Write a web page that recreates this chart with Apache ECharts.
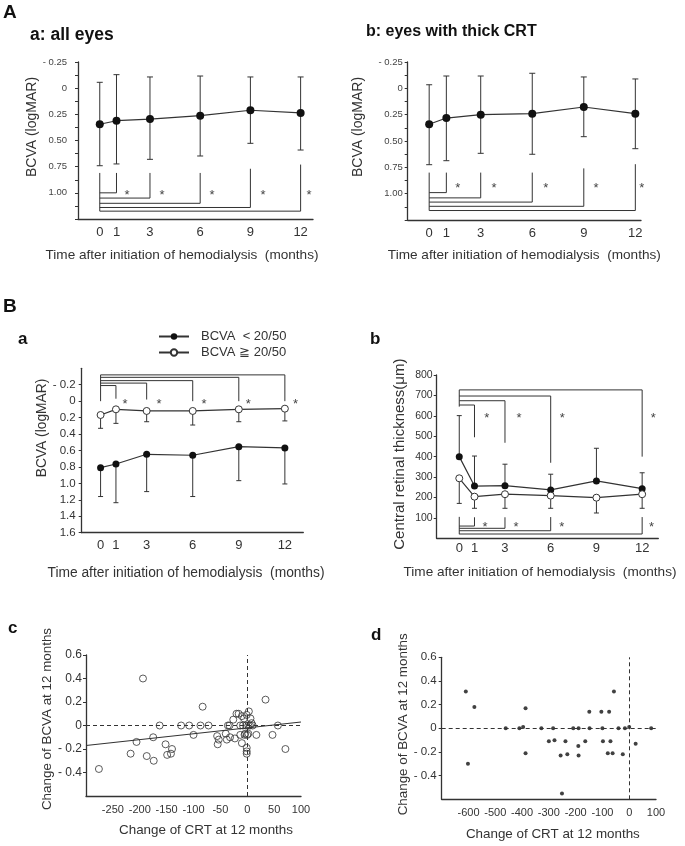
<!DOCTYPE html>
<html><head><meta charset="utf-8">
<script src="https://cdn.jsdelivr.net/npm/echarts@6/dist/echarts.min.js"></script>
<style>html,body{margin:0;padding:0;background:#fff}#c{width:685px;height:846px}</style>
</head><body><div id="c"></div>
<script>
// ================= DATA =================
const months = [0, 1, 3, 6, 9, 12];
const monthTickLabels = [0, 1, 3, 6, 9, 12];

// A-a: all eyes, BCVA (logMAR): mean, bar ends
const allMean  = [0.345, 0.311, 0.295, 0.263, 0.211, 0.237];
const allUpper = [-0.056, -0.129, -0.107, -0.116, -0.107, -0.107];
const allLower = [0.741, 0.724, 0.680, 0.648, 0.527, 0.591];
// A-b: eyes with thick CRT
const thickMean  = [0.341, 0.282, 0.250, 0.241, 0.177, 0.241];
const thickUpper = [-0.034, -0.117, -0.117, -0.143, -0.108, -0.089];
const thickLower = [0.725, 0.687, 0.617, 0.626, 0.459, 0.573];
const aYTicks = [-0.25, 0, 0.25, 0.5, 0.75, 1.0];
const aYTickLabels = ['- 0.25', '0', '0.25', '0.50', '0.75', '1.00'];
// A significance brackets (month, from, to) and stars
const aBrX = [0, 1, 3, 6, 9, 12];
const aaBrFrom = [0.81, 0.81, 0.81, 0.81, 0.77, 0.73];
const aaBrTo   = [1.175, 1.0, 1.05, 1.10, 1.14, 1.175];
const aaStarX = [1.63, 3.72, 6.71, 9.75, 12.5];
const aaStarY = [1.0, 1.0, 1.0, 1.0, 1.0];
const abBrFrom = [0.80, 0.80, 0.80, 0.80, 0.76, 0.72];
const abBrTo   = [1.16, 0.99, 1.04, 1.08, 1.12, 1.16];
const abStarX = [1.66, 3.77, 6.79, 9.71, 12.37];
const abStarY = [0.92, 0.92, 0.92, 0.92, 0.92];

// B-a: BCVA by group
const poorName = 'BCVA  < 20/50';
const goodName = 'BCVA ≧ 20/50';
const baPoorMean = [0.809, 0.764, 0.646, 0.658, 0.553, 0.569];
const baPoorEnd  = [1.16, 1.235, 1.10, 1.16, 0.967, 1.007];
const baGoodMean = [0.168, 0.099, 0.119, 0.119, 0.099, 0.091];
const baGoodEnd  = [0.33, 0.27, 0.25, 0.29, 0.25, 0.24];
const bYTicks = [-0.2, 0, 0.2, 0.4, 0.6, 0.8, 1.0, 1.2, 1.4, 1.6];
const bYTickLabels = ['- 0.2', '0', '0.2', '0.4', '0.6', '0.8', '1.0', '1.2', '1.4', '1.6'];
const baBrX = [0, 1, 3, 6, 9, 12];
const baBrFrom = [0, -0.03, -0.02, 0, 0, 0];
const baBrTo   = [-0.32, -0.19, -0.22, -0.25, -0.29, -0.32];
const baStarX = [1.59, 3.81, 6.74, 9.62, 12.7];
const baStarY = [0, 0, 0, 0, 0];

// B-b: central retinal thickness by group
const bbPoorMean = [400, 256, 258, 237, 281, 243];
const bbPoorEnd  = [601, 403, 363, 314, 441, 321];
const bbGoodMean = [294, 204, 216, 209, 199, 216];
const bbGoodEnd  = [171, 147, 147, 147, 124, 147];
const crtTicks = [100, 200, 300, 400, 500, 600, 700, 800];
const bbTopBrX = [0, 1, 3, 6, 12];
const bbTopBrFrom = [645, 495, 468, 370, 400];
const bbTopBrTo   = [727, 653, 674, 697, 727];
const bbTopStarX = [1.80, 3.92, 6.76, 12.73];
const bbTopStarY = [604, 604, 604, 604];
const bbBotBrX = [0, 1, 3, 6, 12];
const bbBotBrFrom = [105, 103, 103, 104, 104];
const bbBotBrTo   = [20, 60, 49, 37, 21];
const bbBotStarX = [1.69, 3.72, 6.72, 12.62];
const bbBotStarY = [69, 69, 69, 69];

// c: change of CRT vs change of BCVA (all eyes)
const cCRT = [-276, -217, -206, -194, -187, -175, -174, -163, -152, -149, -142, -140, -123, -108, -100, -87, -83, -72,
  -56, -55, -53, -40, -38, -36, -33, -32, -26, -23, -20, -16, -13, -13, -10, -10, -8, -6, -5, -4, -2, -1, -1, -1, -1,
  0, 2, 2, 3, 5, 6, 8, 10, 17, 34, 47, 57, 71];
const cBCVA = [-0.37, -0.24, -0.14, 0.40, -0.26, -0.10, -0.30, 0, -0.16, -0.25, -0.24, -0.20, 0, 0, -0.08, 0, 0.16, 0,
  -0.09, -0.16, -0.12, -0.07, -0.12, 0, 0, -0.10, 0.05, -0.11, 0.10, 0.10, 0, -0.08, 0.08, -0.15, 0, 0.06, -0.08, -0.07, 0, -0.19, -0.22, -0.24, 0.09,
  -0.08, -0.07, 0, 0.12, 0, 0.06, 0.02, 0, -0.08, 0.22, -0.08, 0, -0.20];
const cRegX = [-300, 100];
const cRegY = [-0.17, 0.03];
const cXTicks = [-250, -200, -150, -100, -50, 0, 50, 100];
const cdYTicks = [-0.4, -0.2, 0, 0.2, 0.4, 0.6];
const cdYTickLabels = ['- 0.4', '- 0.2', '0', '0.2', '0.4', '0.6'];

// d: change of CRT vs change of BCVA (thick CRT eyes)
const dCRT = [-610, -578, -602, -461, -410, -396, -387, -387, -328, -300, -284, -279, -256, -251, -238, -231, -209, -190,
  -189, -189, -164, -149, -148, -104, -100, -98, -80, -75, -70, -62, -57, -40, -24, -16, 0, 24, 82];
const dBCVA = [0.31, 0.18, -0.30, 0, 0, 0.01, 0.17, -0.21, 0, -0.11, 0, -0.10, -0.23, -0.55, -0.11, -0.22, 0, -0.15,
  0, -0.23, -0.11, 0.14, 0, 0.14, 0, -0.11, -0.21, 0.14, -0.11, -0.21, 0.31, 0, -0.22, 0, 0.01, -0.13, 0];
const dXTicks = [-600, -500, -400, -300, -200, -100, 0, 100];

// ================= CHART =================
const FONT = 'Liberation Sans';
const INK = '#333';
const chart = echarts.init(document.getElementById('c'));

function lookupFmt(ticks, labels) {
  return v => { const i = ticks.findIndex(t => Math.abs(t - v) < 1e-6); return i >= 0 ? String(labels[i]) : ''; };
}
function xAx(gi, o) {
  return Object.assign({
    gridIndex: gi, type: 'value', splitLine: { show: false },
    axisLine: { show: true, onZero: false, lineStyle: { color: INK, width: 1.3 } },
    axisTick: { show: false }, nameLocation: 'middle'
  }, o);
}
function yAx(gi, o) {
  return Object.assign({
    gridIndex: gi, type: 'value', splitLine: { show: false },
    axisLine: { show: true, onZero: false, lineStyle: { color: INK, width: 1.3 } },
    axisTick: { show: true, length: 3, lineStyle: { color: INK } }, nameLocation: 'middle'
  }, o);
}
function errSeries(gi, xs, from, to, capBoth, capW) {
  return {
    type: 'custom', xAxisIndex: gi, yAxisIndex: gi, z: 1, silent: true, clip: false,
    data: xs.map((x, i) => [x, from[i], to[i]]),
    renderItem(params, api) {
      const p1 = api.coord([api.value(0), api.value(1)]);
      const p2 = api.coord([api.value(0), api.value(2)]);
      const h = capW / 2, st = { stroke: INK, lineWidth: 1 };
      const ch = [
        { type: 'line', shape: { x1: p1[0], y1: p1[1], x2: p2[0], y2: p2[1] }, style: st },
        { type: 'line', shape: { x1: p2[0] - h, y1: p2[1], x2: p2[0] + h, y2: p2[1] }, style: st }
      ];
      if (capBoth) ch.push({ type: 'line', shape: { x1: p1[0] - h, y1: p1[1], x2: p1[0] + h, y2: p1[1] }, style: st });
      return { type: 'group', children: ch };
    }
  };
}
function bracketSeries(gi, xs, from, to) {
  return {
    type: 'custom', xAxisIndex: gi, yAxisIndex: gi, z: 1, silent: true, clip: false,
    data: xs.map((x, i) => [x, from[i], to[i]]),
    renderItem(params, api) {
      const p0 = api.coord([api.value(0), api.value(1)]);
      const p1 = api.coord([api.value(0), api.value(2)]);
      const p2 = api.coord([0, api.value(2)]);
      return { type: 'polyline', shape: { points: [p0, p1, p2] }, style: { stroke: INK, lineWidth: 1, fill: null } };
    }
  };
}
function starSeries(gi, xs, ys) {
  return {
    type: 'custom', xAxisIndex: gi, yAxisIndex: gi, z: 2, silent: true, clip: false,
    data: xs.map((x, i) => [x, ys[i]]),
    renderItem(params, api) {
      const p = api.coord([api.value(0), api.value(1)]);
      return { type: 'text', x: p[0], y: p[1] + 3, style: { text: '*', fontSize: 13, fontFamily: FONT, fill: '#444', align: 'center', verticalAlign: 'middle' } };
    }
  };
}
function meanLine(gi, name, ys, open, size) {
  return {
    type: 'line', name: name, xAxisIndex: gi, yAxisIndex: gi, z: 3,
    data: months.map((m, i) => [m, ys[i]]),
    symbol: 'circle', symbolSize: size, showSymbol: true,
    itemStyle: open ? { color: '#fff', borderColor: INK, borderWidth: 1 } : { color: '#111' },
    lineStyle: { color: INK, width: 1.2 }
  };
}
const nameStyle = (size, pad) => ({ fontSize: size, color: INK, fontFamily: FONT, padding: pad });
const timeName = 'Time after initiation of hemodialysis  (months)';

const option = {
  animation: false,
  textStyle: { fontFamily: FONT },
  title: [
    { text: 'A', left: 3, top: 3, padding: 0, textStyle: { fontSize: 19, fontWeight: 'bold', color: '#111' } },
    { text: 'a: all eyes', left: 30, top: 26, padding: 0, textStyle: { fontSize: 17.5, fontWeight: 'bold', color: '#111' } },
    { text: 'b: eyes with thick CRT', left: 366, top: 24, padding: 0, textStyle: { fontSize: 16, fontWeight: 'bold', color: '#111' } },
    { text: 'B', left: 3, top: 297, padding: 0, textStyle: { fontSize: 19, fontWeight: 'bold', color: '#111' } },
    { text: 'a', left: 18, top: 331, padding: 0, textStyle: { fontSize: 17, fontWeight: 'bold', color: '#111' } },
    { text: 'b', left: 370, top: 331, padding: 0, textStyle: { fontSize: 17, fontWeight: 'bold', color: '#111' } },
    { text: 'c', left: 8, top: 620, padding: 0, textStyle: { fontSize: 17, fontWeight: 'bold', color: '#111' } },
    { text: 'd', left: 371, top: 627, padding: 0, textStyle: { fontSize: 17, fontWeight: 'bold', color: '#111' } }
  ],
  legend: {
    data: [poorName, goodName], orient: 'vertical', left: 158, top: 330, padding: 0,
    itemWidth: 30, itemHeight: 8, itemGap: 3, selectedMode: false,
    textStyle: { fontSize: 13, color: INK, padding: [0, 0, 0, 7] }
  },
  grid: [
    { left: 78, top: 62, width: 235, height: 157, outerBoundsMode: 'none' },
    { left: 407.7, top: 62, width: 233.3, height: 158, outerBoundsMode: 'none' },
    { left: 81.7, top: 368.3, width: 221.6, height: 164.4, outerBoundsMode: 'none' },
    { left: 436.7, top: 375, width: 221.6, height: 163.3, outerBoundsMode: 'none' },
    { left: 86, top: 655, width: 215, height: 141, outerBoundsMode: 'none' },
    { left: 441.7, top: 657.3, width: 214.3, height: 142, outerBoundsMode: 'none' }
  ],
  xAxis: [
    xAx(0, { min: -1.3, max: 12.74, axisLabel: { customValues: monthTickLabels, fontSize: 13, color: INK, margin: 7 },
      name: timeName, nameGap: 29, nameTextStyle: nameStyle(13.6, [0, 27, 0, 0]) }),
    xAx(1, { min: -1.25, max: 12.33, axisLabel: { customValues: monthTickLabels, fontSize: 13, color: INK, margin: 7 },
      name: timeName, nameGap: 28, nameTextStyle: nameStyle(13.6, [0, 0, 0, 0]) }),
    xAx(2, { min: -1.23, max: 13.2, axisLabel: { customValues: monthTickLabels, fontSize: 13, color: INK, margin: 6 },
      name: timeName, nameGap: 33, nameTextStyle: nameStyle(13.8, [0, 13, 0, 0]) }),
    xAx(3, { min: -1.48, max: 13.06, axisLabel: { customValues: monthTickLabels, fontSize: 13, color: INK, margin: 4 },
      name: timeName, nameGap: 27, nameTextStyle: nameStyle(13.6, [0, 15, 0, 0]) }),
    xAx(4, { min: -300, max: 100, interval: 50, axisLabel: { customValues: cXTicks, fontSize: 11, color: INK, margin: 8 },
      name: 'Change of CRT at 12 months', nameGap: 28, nameTextStyle: nameStyle(13.4, [0, 0, 0, 25]) }),
    xAx(5, { min: -700, max: 100, interval: 100, axisLabel: { customValues: dXTicks, fontSize: 11, color: INK, margin: 8 },
      name: 'Change of CRT at 12 months', nameGap: 29, nameTextStyle: nameStyle(13.4, [0, 0, 0, 8]) })
  ],
  yAxis: [
    yAx(0, { inverse: true, min: -0.25, max: 1.25, interval: 0.25,
      minorTick: { show: true, splitNumber: 2, length: 3, lineStyle: { color: INK } },
      axisLabel: { formatter: lookupFmt(aYTicks, aYTickLabels), fontSize: 9.5, color: '#444', margin: 11 },
      name: 'BCVA (logMAR)', nameGap: 39, nameTextStyle: nameStyle(14, [0, 0, 0, 27]) }),
    yAx(1, { inverse: true, min: -0.25, max: 1.25, interval: 0.25,
      minorTick: { show: true, splitNumber: 2, length: 3, lineStyle: { color: INK } },
      axisLabel: { formatter: lookupFmt(aYTicks, aYTickLabels), fontSize: 9.5, color: '#444', margin: 5 },
      name: 'BCVA (logMAR)', nameGap: 43, nameTextStyle: nameStyle(14, [0, 0, 0, 28]) }),
    yAx(2, { inverse: true, min: -0.4, max: 1.6, interval: 0.2,
      axisTick: { show: true, length: 3, customValues: bYTicks, lineStyle: { color: INK } },
      axisLabel: { customValues: bYTicks, formatter: lookupFmt(bYTicks, bYTickLabels), fontSize: 11.5, color: INK, margin: 6 },
      name: 'BCVA (logMAR)', nameGap: 32, nameTextStyle: nameStyle(13.8, [0, 0, 0, 45]) }),
    yAx(3, { min: 0, max: 800, interval: 100,
      axisTick: { show: true, length: 3, customValues: crtTicks, lineStyle: { color: INK } },
      axisLabel: { customValues: crtTicks, fontSize: 10.5, color: INK, margin: 4 },
      name: 'Central retinal thickness(μm)', nameGap: 29, nameTextStyle: nameStyle(15, [0, 0, 0, 5]) }),
    yAx(4, { min: -0.6, max: 0.6, interval: 0.2,
      axisTick: { show: true, length: 3, customValues: cdYTicks, lineStyle: { color: INK } },
      axisLabel: { customValues: cdYTicks, formatter: lookupFmt(cdYTicks, cdYTickLabels), fontSize: 12, color: INK, margin: 4 },
      name: 'Change of BCVA at 12 months', nameGap: 32, nameTextStyle: nameStyle(13.4, [0, 0, 0, 13]) }),
    yAx(5, { min: -0.6, max: 0.6, interval: 0.2,
      axisTick: { show: true, length: 3, customValues: cdYTicks, lineStyle: { color: INK } },
      axisLabel: { customValues: cdYTicks, formatter: lookupFmt(cdYTicks, cdYTickLabels), fontSize: 11.5, color: INK, margin: 5 },
      name: 'Change of BCVA at 12 months', nameGap: 29, nameTextStyle: nameStyle(13.4, [0, 0, 0, 8]) })
  ],
  series: [
    // A-a
    errSeries(0, months, allUpper, allLower, true, 6),
    meanLine(0, 'all eyes', allMean, false, 8),
    bracketSeries(0, aBrX, aaBrFrom, aaBrTo),
    starSeries(0, aaStarX, aaStarY),
    // A-b
    errSeries(1, months, thickUpper, thickLower, true, 6),
    meanLine(1, 'eyes with thick CRT', thickMean, false, 8),
    bracketSeries(1, aBrX, abBrFrom, abBrTo),
    starSeries(1, abStarX, abStarY),
    // B-a
    errSeries(2, months, baPoorMean, baPoorEnd, false, 5),
    errSeries(2, months, baGoodMean, baGoodEnd, false, 5),
    meanLine(2, poorName, baPoorMean, false, 7),
    meanLine(2, goodName, baGoodMean, true, 7),
    bracketSeries(2, baBrX, baBrFrom, baBrTo),
    starSeries(2, baStarX, baStarY),
    // B-b
    errSeries(3, months, bbPoorMean, bbPoorEnd, false, 5),
    errSeries(3, months, bbGoodMean, bbGoodEnd, false, 5),
    meanLine(3, poorName, bbPoorMean, false, 7),
    meanLine(3, goodName, bbGoodMean, true, 7),
    bracketSeries(3, bbTopBrX, bbTopBrFrom, bbTopBrTo),
    starSeries(3, bbTopStarX, bbTopStarY),
    bracketSeries(3, bbBotBrX, bbBotBrFrom, bbBotBrTo),
    starSeries(3, bbBotStarX, bbBotStarY),
    // c
    {
      type: 'scatter', xAxisIndex: 4, yAxisIndex: 4, z: 3,
      data: cCRT.map((x, i) => [x, cBCVA[i]]), symbol: 'circle', symbolSize: 7,
      itemStyle: { color: 'rgba(255,255,255,0)', borderColor: INK, borderWidth: 1 },
      markLine: { silent: true, symbol: ['none', 'none'], label: { show: false },
        lineStyle: { type: [4, 3], color: INK, width: 1 }, data: [{ xAxis: 0 }, { yAxis: 0 }] }
    },
    {
      type: 'line', xAxisIndex: 4, yAxisIndex: 4, z: 2, showSymbol: false, symbol: 'none',
      data: cRegX.map((x, i) => [x, cRegY[i]]), lineStyle: { color: INK, width: 1.2 }
    },
    // d
    {
      type: 'scatter', xAxisIndex: 5, yAxisIndex: 5, z: 3,
      data: dCRT.map((x, i) => [x, dBCVA[i]]), symbol: 'circle', symbolSize: 4,
      itemStyle: { color: '#111' },
      markLine: { silent: true, symbol: ['none', 'none'], label: { show: false },
        lineStyle: { type: [4, 3], color: INK, width: 1 }, data: [{ xAxis: 0 }, { yAxis: 0 }] }
    }
  ]
};
chart.setOption(option);
</script></body></html>
